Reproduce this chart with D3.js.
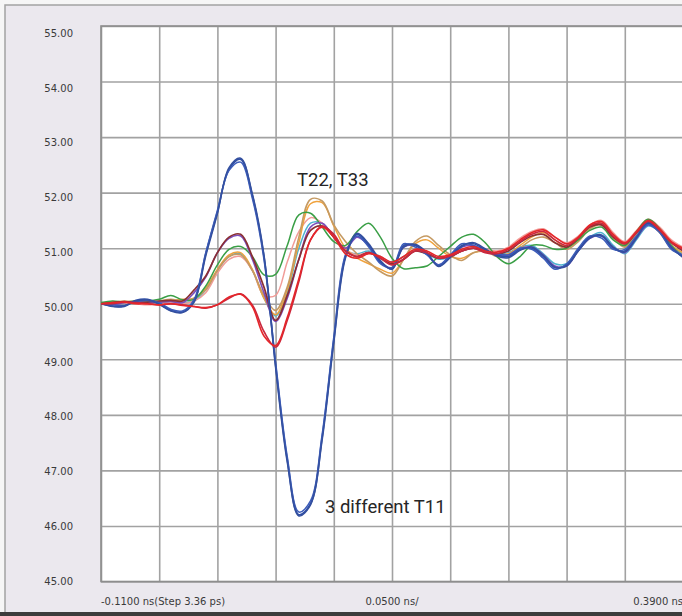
<!DOCTYPE html>
<html>
<head>
<meta charset="utf-8">
<script src="https://cdn.jsdelivr.net/npm/d3@7"></script>
<style>
  html, body { margin: 0; padding: 0; background: #f6f6f6; }
  svg { display: block; }
</style>
</head>
<body>
<svg id="chart" width="682" height="616"></svg>
<script>
// Sample times (ns) of the TDR impedance traces
const time = [-0.11,-0.10,-0.09,-0.08,-0.07,-0.06,-0.05,-0.04,-0.03,-0.02,-0.01,0.00,0.01,0.02,0.03,0.04,0.05,0.06,0.07,0.08,0.09,0.10,0.11,0.12,0.13,0.14,0.15,0.16,0.17,0.18,0.19,0.20,0.21,0.22,0.23,0.24,0.25,0.26,0.27,0.28,0.29,0.30,0.31,0.32,0.33,0.34,0.35,0.36,0.37,0.38,0.39];

// Impedance (ohm) per trace
const t11a = [50.00,49.96,49.95,50.06,50.08,50.00,49.88,49.85,50.05,50.90,51.65,52.42,52.60,51.95,50.85,48.90,47.20,46.20,46.40,47.60,49.35,50.85,51.25,51.05,50.75,50.63,51.05,51.05,50.90,50.68,50.85,51.05,51.08,50.97,50.88,50.85,50.98,51.00,50.85,50.65,50.70,50.97,51.20,51.22,51.00,50.95,51.20,51.45,51.30,51.00,50.85];
const t11b = [50.00,49.98,49.97,50.04,50.06,50.02,49.90,49.87,50.08,50.92,51.68,52.40,52.55,51.90,50.80,48.95,47.25,46.25,46.45,47.65,49.40,50.88,51.22,51.02,50.72,50.65,51.08,51.02,50.88,50.70,50.88,51.08,51.05,50.95,50.90,50.88,51.00,50.98,50.82,50.62,50.72,51.00,51.22,51.18,50.98,50.98,51.22,51.42,51.28,50.98,50.88];
const t11c = [50.00,49.95,49.96,50.05,50.07,49.99,49.87,49.84,50.03,50.86,51.62,52.45,52.62,51.98,50.88,48.85,47.15,46.18,46.38,47.55,49.30,50.82,51.27,51.08,50.78,50.62,51.02,51.07,50.92,50.67,50.83,51.03,51.10,50.99,50.86,50.83,50.96,51.02,50.87,50.66,50.68,50.95,51.18,51.24,51.02,50.93,51.18,51.47,51.32,51.02,50.83];
const redA = [50.00,50.02,50.03,50.00,50.00,49.98,50.00,49.97,49.95,49.93,49.98,50.12,50.17,49.95,49.42,49.25,49.75,50.45,51.15,51.38,51.20,50.90,50.82,50.90,50.85,50.75,50.85,50.98,50.95,50.85,50.88,50.98,51.03,50.95,50.93,51.00,51.15,51.28,51.33,51.20,51.08,51.20,51.42,51.48,51.25,51.10,51.30,51.50,51.35,51.12,51.00];
const redB = [50.00,50.00,50.03,50.02,50.00,49.98,50.00,49.98,49.95,49.92,49.98,50.10,50.18,49.98,49.50,49.22,49.70,50.40,51.15,51.40,51.25,50.95,50.85,50.92,50.82,50.70,50.80,50.95,50.92,50.82,50.86,50.95,51.00,50.92,50.90,50.98,51.12,51.25,51.30,51.15,51.05,51.18,51.40,51.45,51.22,51.08,51.28,51.48,51.32,51.10,50.98];
const darkRed = [50.00,50.02,50.04,50.02,50.03,50.05,50.06,50.05,50.25,50.50,50.92,51.20,51.25,50.85,50.30,49.70,50.15,50.80,51.32,51.40,51.20,50.95,50.85,50.92,50.82,50.72,50.80,50.95,50.90,50.82,50.85,50.95,51.00,50.95,50.90,50.95,51.10,51.22,51.25,51.10,51.02,51.18,51.38,51.42,51.20,51.08,51.28,51.45,51.32,51.10,50.95];
const green = [50.02,50.05,50.03,50.05,50.05,50.08,50.15,50.07,50.08,50.32,50.70,50.98,51.03,50.85,50.52,50.53,51.05,51.60,51.63,51.38,51.12,51.05,51.30,51.45,51.20,50.82,50.63,50.65,50.68,50.85,51.03,51.20,51.25,51.10,50.85,50.72,50.85,51.05,51.05,50.98,51.00,51.15,51.32,51.38,51.15,51.05,51.30,51.52,51.35,51.05,50.85];
const t22 = [50.00,50.02,50.05,50.03,50.02,50.05,50.08,50.05,50.10,50.25,50.60,50.85,50.88,50.60,50.15,49.88,50.30,51.20,51.88,51.85,51.42,51.12,50.90,50.75,50.58,50.50,50.80,51.12,51.22,51.05,50.88,50.78,50.92,50.95,50.85,50.85,51.00,51.15,51.20,51.10,50.98,51.12,51.35,51.42,51.18,51.02,51.25,51.45,51.28,51.00,50.88];
const t33 = [50.00,50.03,50.02,50.05,50.03,50.02,50.06,50.08,50.10,50.28,50.62,50.88,50.92,50.62,50.10,49.80,50.25,51.10,51.80,51.82,51.40,51.00,50.82,50.72,50.62,50.55,50.80,51.08,51.15,51.00,50.85,50.82,50.92,50.95,50.88,50.90,51.05,51.20,51.28,51.15,51.02,51.15,51.38,51.45,51.20,51.05,51.28,51.50,51.32,51.05,50.92];
const pink = [50.00,50.00,50.02,50.00,49.98,50.00,50.02,50.00,50.05,50.20,50.55,50.80,50.85,50.60,50.15,50.15,50.75,51.30,51.55,51.45,51.20,50.98,50.88,50.92,50.85,50.72,50.80,50.95,50.92,50.82,50.85,50.95,51.00,50.98,50.95,51.02,51.18,51.30,51.35,51.20,51.10,51.22,51.42,51.50,51.28,51.12,51.32,51.52,51.38,51.15,51.02];
const purple = [50.00,49.98,50.02,50.04,50.02,50.03,50.04,50.02,50.20,50.48,50.92,51.18,51.22,50.80,50.20,49.68,50.10,50.80,51.38,51.45,51.20,51.00,51.20,51.05,50.75,50.65,51.02,51.05,50.90,50.70,50.85,51.02,51.05,50.95,50.88,50.88,51.00,51.02,50.88,50.68,50.68,50.95,51.18,51.22,51.02,50.92,51.18,51.42,51.30,51.02,50.85];
const cyan = [50.00,50.00,50.02,50.02,50.00,50.02,50.03,50.02,50.05,50.25,50.60,50.85,50.90,50.60,50.10,49.78,50.20,51.00,51.45,51.45,51.20,50.95,50.90,50.95,50.85,50.75,50.85,50.95,50.90,50.80,50.85,50.95,51.00,50.95,50.90,50.92,51.02,51.05,50.90,50.72,50.72,50.95,51.20,51.28,51.05,50.90,51.15,51.40,51.30,51.05,50.90];

// Grid / tick values
const xGrid = [-0.11,-0.06,-0.01,0.04,0.09,0.14,0.19,0.24,0.29,0.34,0.39];
const yTicks = [45,46,47,48,49,50,51,52,53,54,55];
const xLabels = [
  { text: "-0.1100 ns(Step 3.36 ps)", t: -0.11, anchor: "start" },
  { text: "0.0500 ns/", t: 0.14, anchor: "middle" },
  { text: "0.3900 ns", t: 0.39, anchor: "end" }
];
const notes = [
  { text: "T22, T33", t: 0.0584, v: 52.12 },
  { text: "3 different T11", t: 0.0824, v: 46.24 }
];

// Draw order: later traces sit on top
const traces = [
  { values: cyan, color: "#4fb3cf", w: 1.5 },
  { values: pink, color: "#f19c98", w: 1.5 },
  { values: t33, color: "#f0a23c", w: 1.5 },
  { values: t22, color: "#c59a62", w: 1.6 },
  { values: green, color: "#3a9f46", w: 1.5 },
  { values: purple, color: "#7b4dbb", w: 1.6 },
  { values: darkRed, color: "#8a2f33", w: 1.7 },
  { values: t11a, color: "#2f4ea6", w: 1.7 },
  { values: t11b, color: "#3c5cb9", w: 1.5 },
  { values: t11c, color: "#34509f", w: 1.5 },
  { values: redB, color: "#c9283f", w: 1.6 },
  { values: redA, color: "#e5262a", w: 1.6 }
];

const svg = d3.select("#chart");
const W = 682, H = 616;
const plot = { left: 101, top: 26, right: 683, bottom: 581.5 };

const x = d3.scaleLinear().domain([-0.11, 0.39]).range([plot.left, plot.right]);
const y = d3.scaleLinear().domain([45, 55]).range([plot.bottom, plot.top]);
// tick labels sit a little below their grid lines toward the top of the scale
const yLab = d3.scaleLinear().domain([45, 55]).range([581, 33.3]);

// outer panel
svg.append("rect").attr("x", 5).attr("y", 5).attr("width", W + 10).attr("height", H - 8)
  .attr("fill", "#ebe8ee").attr("stroke", "#a3a3a3").attr("stroke-width", 1.5);
svg.append("rect").attr("x", 0).attr("y", 612).attr("width", W).attr("height", 4)
  .attr("fill", "#3c3c3c");

// plot area
svg.append("rect").attr("x", plot.left).attr("y", plot.top)
  .attr("width", plot.right - plot.left).attr("height", plot.bottom - plot.top)
  .attr("fill", "#ffffff");

const gx = svg.append("g").attr("transform", `translate(0,${plot.bottom})`)
  .call(d3.axisBottom(x).tickValues(xGrid).tickSize(-(plot.bottom - plot.top)).tickFormat(""));
const gy = svg.append("g").attr("transform", `translate(${plot.left},0)`)
  .call(d3.axisLeft(y).tickValues(yTicks).tickSize(-(plot.right - plot.left)).tickFormat(""));
[gx, gy].forEach(g => {
  g.select(".domain").remove();
  g.selectAll(".tick line").attr("stroke", "#a2a2a2").attr("stroke-width", 1.6);
});

svg.append("rect").attr("x", plot.left).attr("y", plot.top)
  .attr("width", plot.right - plot.left).attr("height", plot.bottom - plot.top)
  .attr("fill", "none").attr("stroke", "#8e8e8e").attr("stroke-width", 1.6);

// y tick labels
svg.append("g").selectAll("text").data(yTicks).join("text")
  .attr("x", 73).attr("y", d => yLab(d)).attr("dy", "0.36em")
  .attr("text-anchor", "end")
  .attr("font-family", "'DejaVu Sans', Verdana, sans-serif").attr("font-size", 10)
  .attr("fill", "#3a3a3a")
  .text(d => d3.format(".2f")(d));

// x labels
svg.append("g").selectAll("text").data(xLabels).join("text")
  .attr("x", d => x(d.t)).attr("y", 604.5)
  .attr("text-anchor", d => d.anchor)
  .attr("font-family", "'DejaVu Sans', Verdana, sans-serif").attr("font-size", 10)
  .attr("fill", "#3a3a3a")
  .text(d => d.text);

// traces
const clip = svg.append("clipPath").attr("id", "plotClip").append("rect")
  .attr("x", plot.left).attr("y", plot.top)
  .attr("width", plot.right - plot.left).attr("height", plot.bottom - plot.top);

const line = d3.line()
  .x((d, i) => x(time[i]))
  .y(d => y(d))
  .curve(d3.curveCatmullRom.alpha(0.5));

svg.append("g").attr("clip-path", "url(#plotClip)")
  .selectAll("path").data(traces).join("path")
  .attr("d", d => line(d.values))
  .attr("fill", "none")
  .attr("stroke", d => d.color)
  .attr("stroke-width", d => d.w)
  .attr("stroke-linejoin", "round");

// annotations
svg.append("g").selectAll("text").data(notes).join("text")
  .attr("x", d => x(d.t)).attr("y", d => y(d.v))
  .attr("font-family", "Roboto, 'Liberation Sans', sans-serif").attr("font-size", 18.5)
  .attr("fill", "#262626")
  .text(d => d.text);
</script>
</body>
</html>
